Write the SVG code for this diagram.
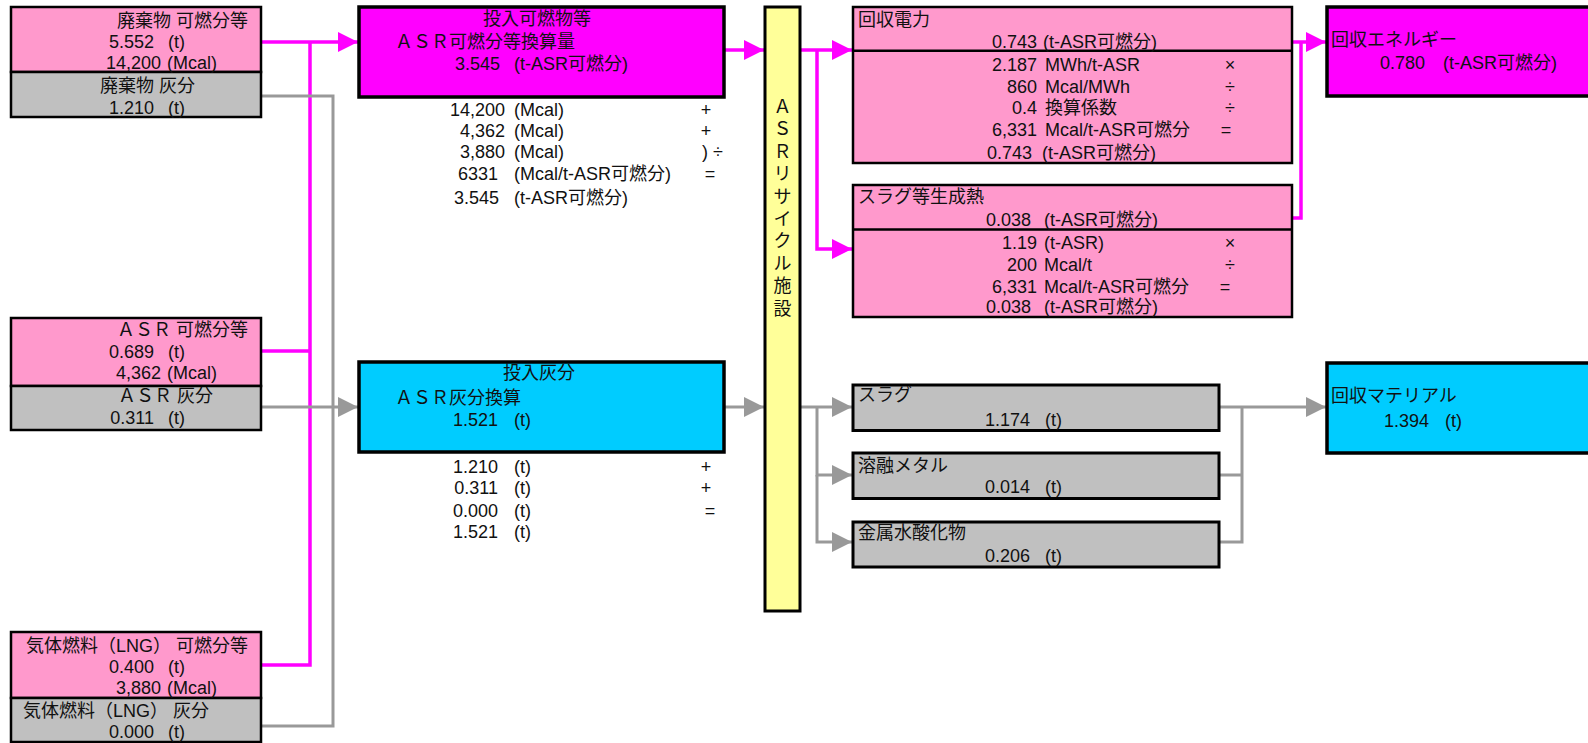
<svg xmlns="http://www.w3.org/2000/svg" width="1588" height="743" viewBox="0 0 1588 743">
<style>
text{font-family:"Liberation Sans","Noto Sans CJK JP",sans-serif;font-size:18px;fill:#111}
.e{text-anchor:end}
.m{text-anchor:middle}
.pk{fill:#FF99CC;stroke:#000;stroke-width:2.5}
.gy{fill:#C0C0C0;stroke:#000;stroke-width:2.5}
.mg{fill:#FF00FF;stroke:#000;stroke-width:3.5}
.cy{fill:#00CCFF;stroke:#000;stroke-width:3.5}
.yl{fill:#FFFF99;stroke:#000;stroke-width:3}
.dv{stroke:#000;stroke-width:2.5}
.cm{stroke:#FF00FF;stroke-width:3.5;fill:none}
.cg{stroke:#999999;stroke-width:3;fill:none}
</style>
<defs>
<marker id="am" markerUnits="userSpaceOnUse" markerWidth="20" markerHeight="20" refX="20" refY="10" orient="auto"><path d="M0,0 L20,10 L0,20 z" fill="#FF00FF"/></marker>
<marker id="ag" markerUnits="userSpaceOnUse" markerWidth="20" markerHeight="20" refX="20" refY="10" orient="auto"><path d="M0,0 L20,10 L0,20 z" fill="#999999"/></marker>
</defs>
<rect width="1588" height="743" fill="#fff"/>

<g id="connectors">
<path class="cm" d="M261,42 H358" marker-end="url(#am)"/>
<path class="cm" d="M261,351 H310 M261,665 H310 V42"/>
<path class="cm" d="M724,50 H764" marker-end="url(#am)"/>
<path class="cm" d="M800,50 H852" marker-end="url(#am)"/>
<path class="cm" d="M817,50 V249 H852" marker-end="url(#am)"/>
<path class="cm" d="M1292,42 H1326" marker-end="url(#am)"/>
<path class="cm" d="M1292,218 H1301 V42"/>
<path class="cg" d="M261,96 H333 V726 H261"/>
<path class="cg" d="M261,407 H358" marker-end="url(#ag)"/>
<path class="cg" d="M724,407 H764" marker-end="url(#ag)"/>
<path class="cg" d="M800,407 H852" marker-end="url(#ag)"/>
<path class="cg" d="M817,407 V475 H852" marker-end="url(#ag)"/>
<path class="cg" d="M817,475 V542 H852" marker-end="url(#ag)"/>
<path class="cg" d="M1219,407 H1326" marker-end="url(#ag)"/>
<path class="cg" d="M1219,475 H1242 M1219,542 H1242 V407"/>
</g>

<g id="haiki">
<rect class="pk" x="11" y="7" width="250" height="65"/>
<rect class="gy" x="11" y="72" width="250" height="45"/>
<text x="248" y="27" class="e">廃棄物 可燃分等</text>
<text x="154" y="48" class="e">5.552</text><text x="168" y="48">(t)</text>
<text x="161" y="69" class="e">14,200</text><text x="167" y="69">(Mcal)</text>
<text x="100" y="92">廃棄物 灰分</text>
<text x="154" y="114" class="e">1.210</text><text x="168" y="114">(t)</text>
</g>

<g id="asr">
<rect class="pk" x="11" y="318" width="250" height="68"/>
<rect class="gy" x="11" y="386" width="250" height="44"/>
<text x="248" y="336" class="e">ＡＳＲ 可燃分等</text>
<text x="154" y="358" class="e">0.689</text><text x="168" y="358">(t)</text>
<text x="161" y="379" class="e">4,362</text><text x="167" y="379">(Mcal)</text>
<text x="118" y="402">ＡＳＲ 灰分</text>
<text x="154" y="424" class="e">0.311</text><text x="168" y="424">(t)</text>
</g>

<g id="lng">
<rect class="pk" x="11" y="632" width="250" height="66"/>
<rect class="gy" x="11" y="698" width="250" height="44"/>
<text x="248" y="652" class="e">気体燃料（LNG） 可燃分等</text>
<text x="154" y="673" class="e">0.400</text><text x="168" y="673">(t)</text>
<text x="161" y="694" class="e">3,880</text><text x="167" y="694">(Mcal)</text>
<text x="23" y="717">気体燃料（LNG） 灰分</text>
<text x="154" y="738" class="e">0.000</text><text x="168" y="738">(t)</text>
</g>

<g id="tonyu-kanen">
<rect class="mg" x="359" y="7" width="365" height="90"/>
<text x="483" y="25">投入可燃物等</text>
<text x="395" y="48">ＡＳＲ可燃分等換算量</text>
<text x="500" y="70" class="e">3.545</text><text x="514" y="70">(t-ASR可燃分)</text>
<text x="505" y="116" class="e">14,200</text><text x="514" y="116">(Mcal)</text><text x="706" y="116" class="m">+</text>
<text x="505" y="137" class="e">4,362</text><text x="514" y="137">(Mcal)</text><text x="706" y="137" class="m">+</text>
<text x="505" y="158" class="e">3,880</text><text x="514" y="158">(Mcal)</text><text x="702" y="158">) ÷</text>
<text x="498" y="180" class="e">6331</text><text x="514" y="180">(Mcal/t-ASR可燃分)</text><text x="710" y="180" class="m">=</text>
<text x="499" y="204" class="e">3.545</text><text x="514" y="204">(t-ASR可燃分)</text>
</g>

<g id="tonyu-haibun">
<rect class="cy" x="359" y="362" width="365" height="90"/>
<text x="503" y="379">投入灰分</text>
<text x="395" y="404">ＡＳＲ灰分換算</text>
<text x="498" y="426" class="e">1.521</text><text x="514" y="426">(t)</text>
<text x="498" y="473" class="e">1.210</text><text x="514" y="473">(t)</text><text x="706" y="473" class="m">+</text>
<text x="498" y="494" class="e">0.311</text><text x="514" y="494">(t)</text><text x="706" y="494" class="m">+</text>
<text x="498" y="517" class="e">0.000</text><text x="514" y="517">(t)</text><text x="710" y="517" class="m">=</text>
<text x="498" y="538" class="e">1.521</text><text x="514" y="538">(t)</text>
</g>

<g id="asr-facility">
<rect class="yl" x="765" y="7" width="35" height="604"/>
<text class="m"><tspan x="782.5" y="113">Ａ</tspan><tspan x="782.5" y="135.4">Ｓ</tspan><tspan x="782.5" y="157.8">Ｒ</tspan><tspan x="782.5" y="180.2">リ</tspan><tspan x="782.5" y="202.6">サ</tspan><tspan x="782.5" y="225">イ</tspan><tspan x="782.5" y="247.4">ク</tspan><tspan x="782.5" y="269.8">ル</tspan><tspan x="782.5" y="292.2">施</tspan><tspan x="782.5" y="314.6">設</tspan></text>
</g>

<g id="kaishu-denryoku">
<rect class="pk" x="853" y="7" width="439" height="156"/>
<line class="dv" x1="853" y1="50.7" x2="1292" y2="50.7"/>
<text x="858" y="26">回収電力</text>
<text x="1037" y="48" class="e">0.743</text><text x="1043" y="48">(t-ASR可燃分)</text>
<text x="1037" y="71" class="e">2.187</text><text x="1045" y="71">MWh/t-ASR</text><text x="1230" y="71" class="m">×</text>
<text x="1037" y="93" class="e">860</text><text x="1045" y="93">Mcal/MWh</text><text x="1230" y="93" class="m">÷</text>
<text x="1037" y="114" class="e">0.4</text><text x="1045" y="114">換算係数</text><text x="1230" y="114" class="m">÷</text>
<text x="1037" y="136" class="e">6,331</text><text x="1045" y="136">Mcal/t-ASR可燃分</text><text x="1226" y="136" class="m">=</text>
<text x="1032" y="159" class="e">0.743</text><text x="1042" y="159">(t-ASR可燃分)</text>
</g>

<g id="slag-heat">
<rect class="pk" x="853" y="185" width="439" height="132"/>
<line class="dv" x1="853" y1="229.5" x2="1292" y2="229.5"/>
<text x="858" y="203">スラグ等生成熱</text>
<text x="1031" y="225.5" class="e">0.038</text><text x="1044" y="225.5">(t-ASR可燃分)</text>
<text x="1037" y="249" class="e">1.19</text><text x="1044" y="249">(t-ASR)</text><text x="1230" y="249" class="m">×</text>
<text x="1037" y="271" class="e">200</text><text x="1044" y="271">Mcal/t</text><text x="1230" y="271" class="m">÷</text>
<text x="1037" y="292.5" class="e">6,331</text><text x="1044" y="292.5">Mcal/t-ASR可燃分</text><text x="1225" y="292.5" class="m">=</text>
<text x="1031" y="312.5" class="e">0.038</text><text x="1044" y="312.5">(t-ASR可燃分)</text>
</g>

<g id="kaishu-energy">
<rect class="mg" x="1327" y="7" width="275" height="89"/>
<text x="1331" y="46">回収エネルギー</text>
<text x="1425" y="69" class="e">0.780</text><text x="1443" y="69">(t-ASR可燃分)</text>
</g>

<g id="slag">
<rect class="gy" x="853" y="385" width="366" height="45.5" style="stroke-width:3"/>
<text x="858" y="401">スラグ</text>
<text x="1030" y="426" class="e">1.174</text><text x="1045" y="426">(t)</text>
</g>

<g id="metal">
<rect class="gy" x="853" y="453" width="366" height="45.5" style="stroke-width:3"/>
<text x="858" y="472">溶融メタル</text>
<text x="1030" y="493" class="e">0.014</text><text x="1045" y="493">(t)</text>
</g>

<g id="hydroxide">
<rect class="gy" x="853" y="522" width="366" height="45" style="stroke-width:3"/>
<text x="858" y="539">金属水酸化物</text>
<text x="1030" y="562" class="e">0.206</text><text x="1045" y="562">(t)</text>
</g>

<g id="kaishu-material">
<rect class="cy" x="1327" y="363" width="275" height="90"/>
<text x="1331" y="402">回収マテリアル</text>
<text x="1429" y="427" class="e">1.394</text><text x="1445" y="427">(t)</text>
</g>
</svg>
